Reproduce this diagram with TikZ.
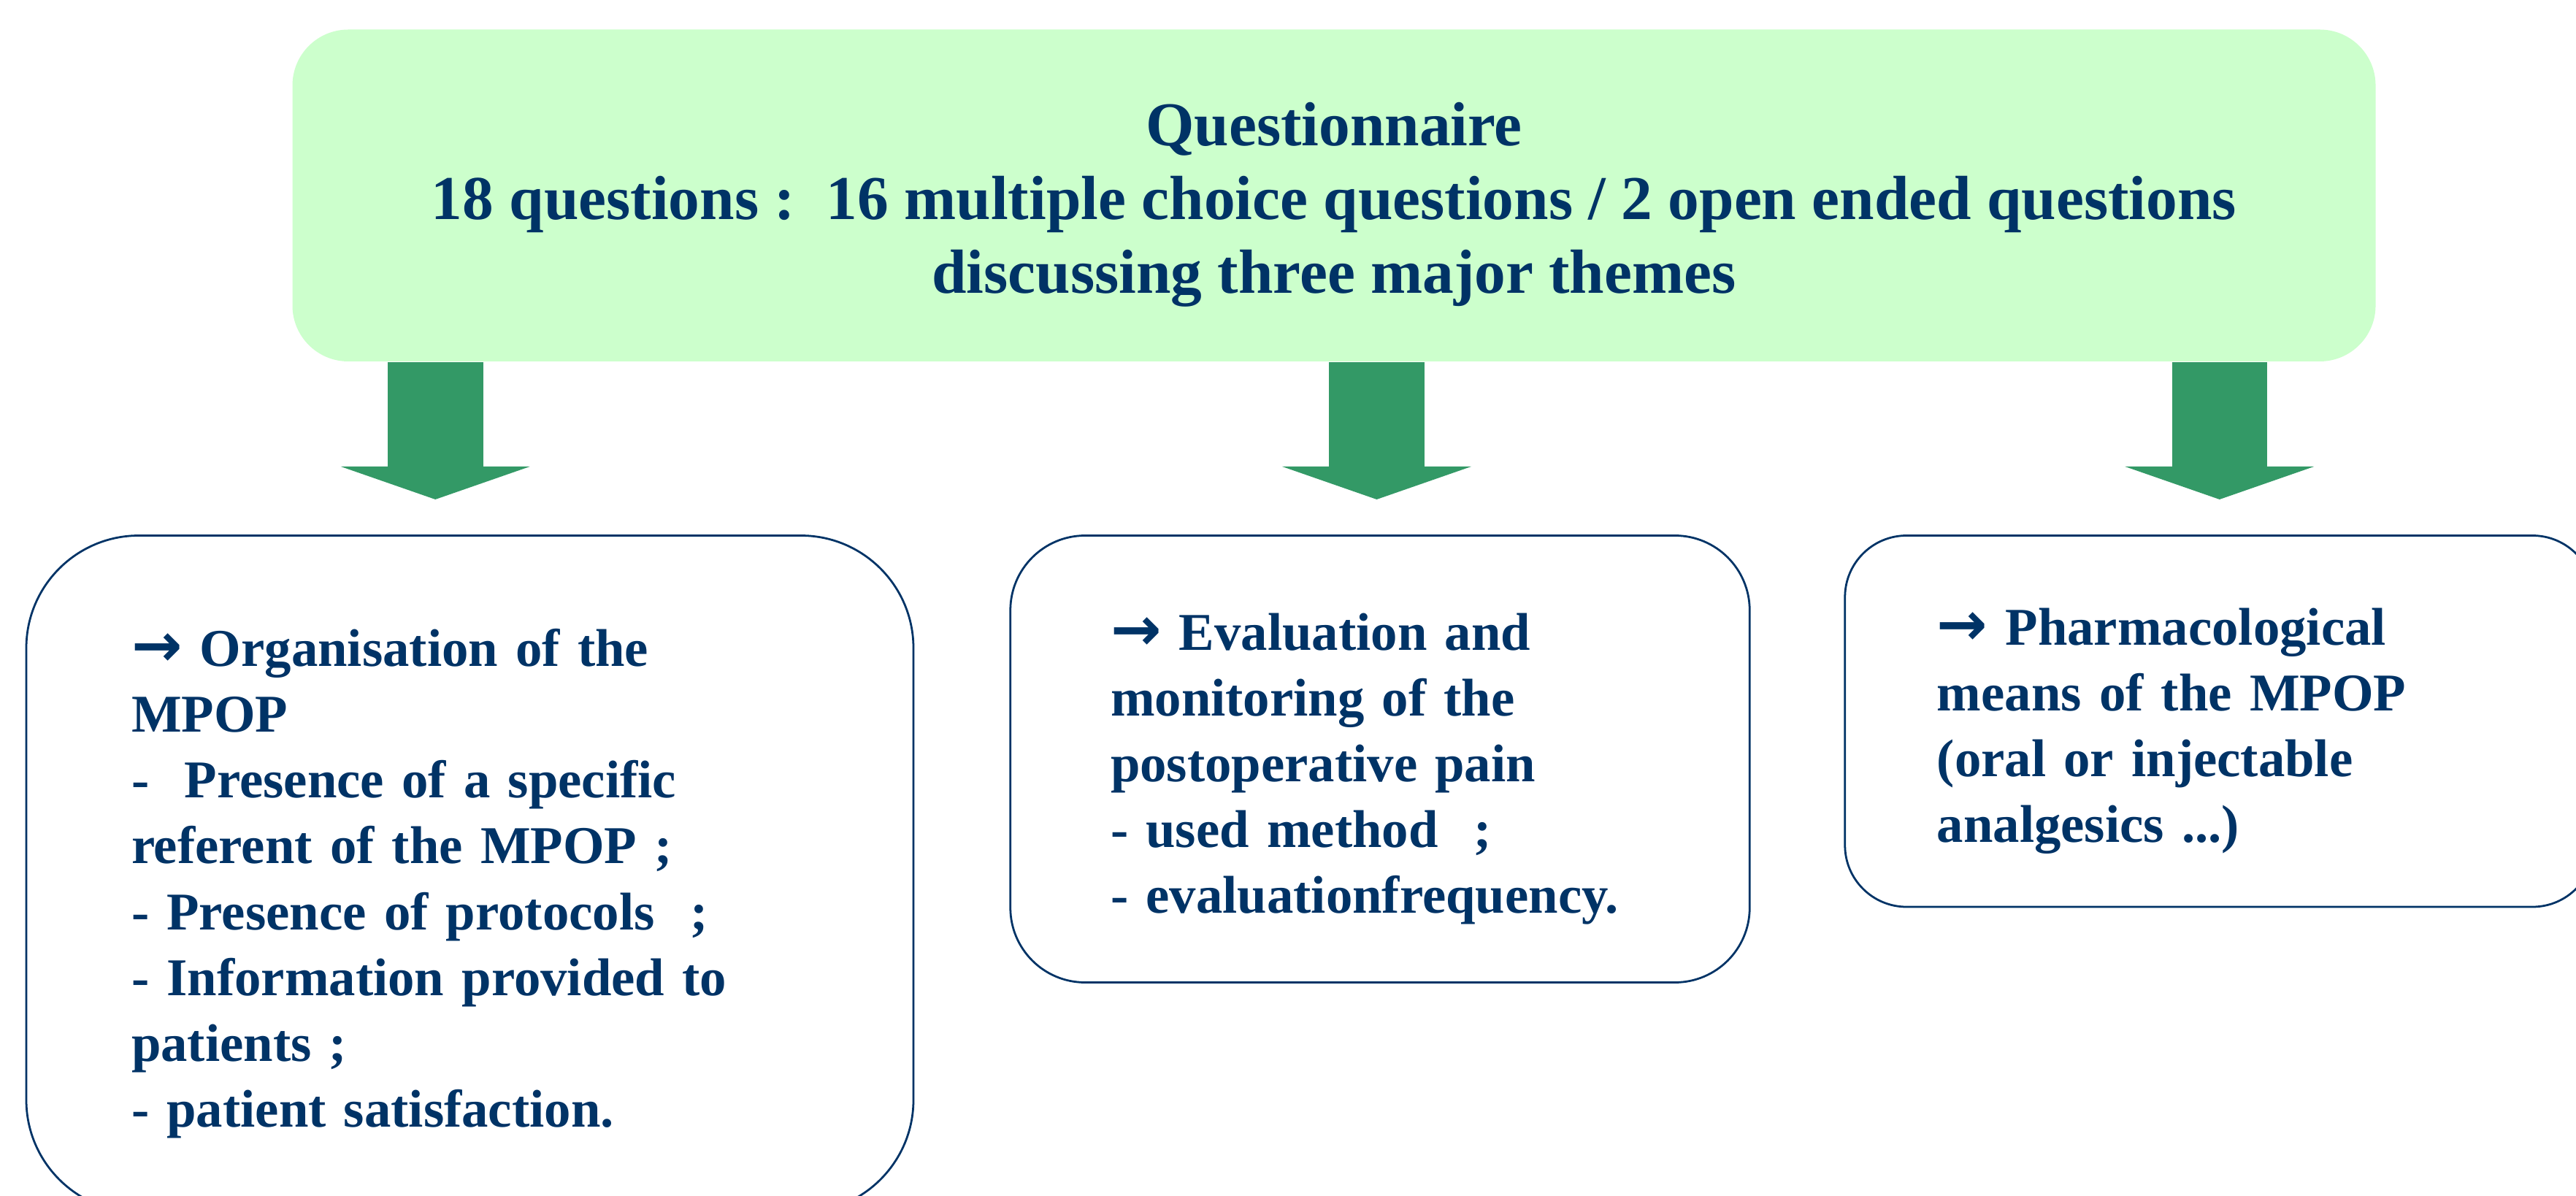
\documentclass[tikz,border=0pt]{standalone}
\usepackage{fontspec}
\setmainfont{Liberation Serif}
\newfontfamily\arrowfont{DejaVu Sans}
\usetikzlibrary{
    arrows.meta,
    positioning
}
\definecolor{navy}{RGB}{0,51,102}
\definecolor{paleg}{RGB}{204,255,204}
\definecolor{arrg}{RGB}{51,153,102}
\newcommand{\bullarr}{{\arrowfont\bfseries\fontsize{21}{22.8}\selectfont →}}

\begin{document}
\begin{tikzpicture}[
  head/.style={
    fill=paleg, rounded corners=0.68cm,
    minimum width=25.36cm, minimum height=4.04cm,
    text=navy, align=center,
    font=\bfseries\fontsize{21.6}{25.6}\selectfont},
  theme/.style={
    draw=navy, line width=0.7pt, fill=white,
    text=navy, align=left, inner ysep=0pt,
    font=\bfseries\fontsize{18.4}{22.8}\selectfont},
  down/.style={arrg, line width=1.16cm,
    -{Triangle[width=2.3cm, length=0.4cm, line width=0pt]}}
]
\useasboundingbox (0,0) rectangle (31.36,-14.56);

\node[head] (quest) at (16.24,-2.38)
  {\rule{0pt}{21.4pt}Questionnaire\\
   18 questions :\ \ 16 multiple choice questions / 2 open ended questions\\
   discussing three major themes};

%% the three themes
\node[theme, rounded corners=1.37cm, text width=8.24cm, inner xsep=1.28cm,
      minimum height=8.24cm] (orga) at (5.72,-10.64)
  {\rule{0pt}{19.6pt}\bullarr\ Organisation of the\\
   MPOP\\
   -\ \ Presence of a specific\\
   referent of the MPOP ;\\
   - Presence of protocols\ \ ;\\
   - Information provided to\\
   patients ;\\
   - patient satisfaction.};
\node[theme, rounded corners=0.91cm, text width=6.56cm, inner xsep=1.22cm,
      minimum height=5.44cm] (eval) at (16.80,-9.24)
  {\rule{0pt}{19.6pt}\bullarr\ Evaluation and\\
   monitoring of the\\
   postoperative pain\\
   - used method\ \ ;\\
   - evaluationfrequency.};
\node[theme, rounded corners=0.75cm, text width=6.88cm, inner xsep=1.12cm,
      minimum height=4.52cm] (pharma) at (27.02,-8.78)
  {\rule{0pt}{19.6pt}\bullarr\ Pharmacological\\
   means of the MPOP\\
   (oral or injectable\\
   analgesics ...)};

%% big arrows
\coordinate (tip1) at (5.30,-6.08);
\coordinate (tip2) at (16.76,-6.08);
\coordinate (tip3) at (27.02,-6.08);
\draw[down] (quest.south -| tip1) -- (tip1);
\draw[down] (quest.south -| tip2) -- (tip2);
\draw[down] (quest.south -| tip3) -- (tip3);

\end{tikzpicture}
\end{document}
